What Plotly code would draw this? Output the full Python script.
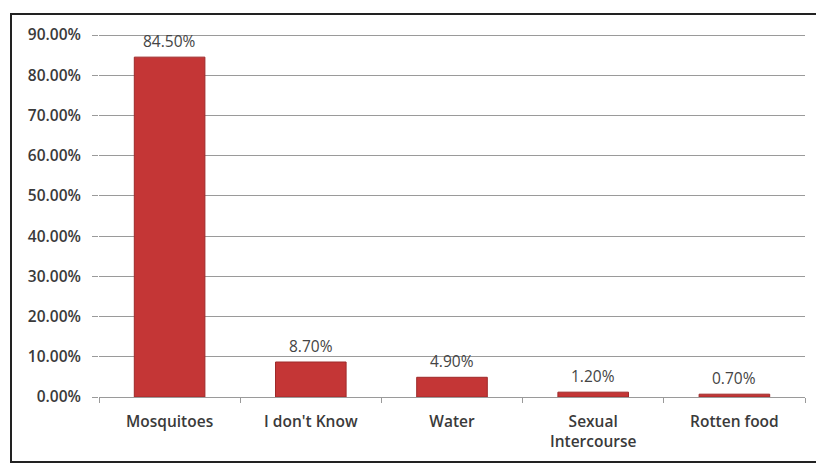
import plotly.graph_objects as go

categories = ["Mosquitoes", "I don't Know", "Water", "Sexual<br>Intercourse", "Rotten food"]
values = [84.5, 8.7, 4.9, 1.2, 0.7]
y_ticks = [0, 10, 20, 30, 40, 50, 60, 70, 80, 90]
y_tick_labels = [f"{v:.2f}%" for v in y_ticks]
value_labels = [f"{v:.2f}%" for v in values]

FONT = "Open Sans"
TXT = "#3a3a3a"
W, H = 816, 465
L, R, T, B = 99, 11, 33, 68
pw, ph = W - L - R, H - T - B

fig = go.Figure()
fig.add_trace(go.Bar(
    x=categories, y=values, width=0.5,
    marker=dict(color="#c43636", line=dict(color="#9e2a2a", width=1)),
    hoverinfo="x+y",
))

for c, v, t in zip(categories, values, value_labels):
    fig.add_annotation(x=c, y=v, text=t, showarrow=False, yanchor="middle",
                       yshift=16, font=dict(size=15.5, color="#444444", family=FONT))

fig.add_shape(type="rect", xref="paper", yref="paper",
              x0=(11 - L) / pw, x1=(830 - L) / pw,
              y0=(H - B - 462) / ph, y1=(H - B - 14) / ph,
              line=dict(color="#222222", width=2), layer="below")

fig.update_layout(
    width=W, height=H,
    margin=dict(l=L, r=R, t=T, b=B),
    paper_bgcolor="white", plot_bgcolor="white",
    showlegend=False, bargap=0.5,
    font=dict(family=FONT, size=15, color=TXT),
)
fig.update_yaxes(range=[0, 90.5], tickvals=y_ticks, ticktext=y_tick_labels,
                 showgrid=True, gridcolor="#9a9a9a", gridwidth=1,
                 ticks="outside", ticklen=6, tickcolor="#9a9a9a",
                 ticklabelstandoff=8, zeroline=False, showline=False,
                 tickfont=dict(size=15.5, color=TXT, family=FONT, weight=600))
fig.update_xaxes(showline=True, linecolor="#9a9a9a", linewidth=1,
                 ticks="outside", tickson="boundaries", ticklen=5, tickcolor="#9a9a9a",
                 ticklabelstandoff=10,
                 showgrid=False, tickfont=dict(size=15.5, color=TXT, family=FONT, weight=600))

fig.write_html("out.html")
